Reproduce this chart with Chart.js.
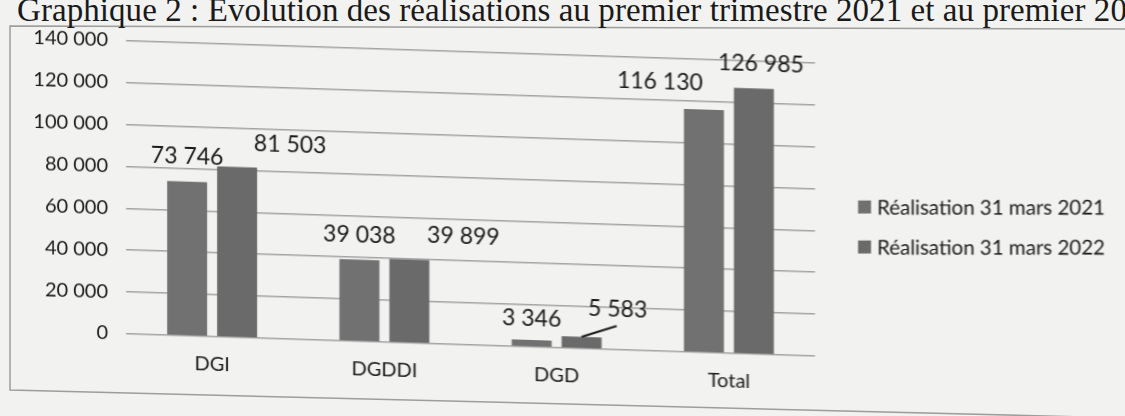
<!DOCTYPE html>
<html>
<head>
<meta charset="utf-8">
<script src="https://cdn.jsdelivr.net/npm/chart.js@4.4.0/dist/chart.umd.min.js"></script>
<style>
html,body{margin:0;padding:0;width:1125px;height:416px;overflow:hidden;background:#f2f2f1;}
#frame{position:absolute;left:0;top:0;}
#title{position:absolute;left:17px;top:-6px;white-space:nowrap;line-height:1;font-size:33px;font-family:"Liberation Serif","DejaVu Serif",serif;color:#1a1a1a;}
#wrap{position:absolute;left:0;top:0;width:1125px;height:416px;transform:skewY(1.85deg);transform-origin:470px 190px;}
</style>
</head>
<body>
<svg id="frame" width="1125" height="416"><polyline points="1125,29 10,26 10,390 1125,418" fill="none" stroke="#9d9d9d" stroke-width="1.5"/></svg>
<div id="title">Graphique 2 : Evolution des réalisations au premier trimestre 2021 et au premier 2022</div>
<div id="wrap"><canvas id="c" width="1125" height="416"></canvas></div>
<script>
// ---- data ----
const categories = ['DGI', 'DGDDI', 'DGD', 'Total'];
const realisation2021 = [73746, 39038, 3346, 116130];
const realisation2022 = [81503, 39899, 5583, 126985];
const seriesLabels = ['Réalisation 31 mars 2021', 'Réalisation 31 mars 2022'];
const yTickValues = [0, 20000, 40000, 60000, 80000, 100000, 120000, 140000];

// ---- title fit ----
(function () {
  const el = document.getElementById('title');
  const visible = 'Graphique 2 : Evolution des réalisations au premier trimestre 2021 et au premier 20';
  const m = document.createElement('canvas').getContext('2d');
  m.font = '33px "Liberation Serif"';
  const w = m.measureText(visible).width;
  el.style.letterSpacing = ((1110 - w) / visible.length) + 'px';
})();

const fmt = v => String(Math.round(v)).replace(/\B(?=(\d{3})+(?!\d))/g, ' ');
const SKEW = Math.tan(1.85 * Math.PI / 180);
const SKEW_OX = 470;

const valueLabels = {
  id: 'valueLabels',
  afterDatasetsDraw(chart, args, opts) {
    const ctx = chart.ctx;
    ctx.save();
    ctx.font = opts.size + 'px ' + opts.family;
    ctx.fillStyle = opts.color;
    ctx.textAlign = 'center';
    ctx.textBaseline = 'middle';
    chart.data.datasets.forEach((ds, di) => {
      chart.getDatasetMeta(di).data.forEach((bar, i) => {
        const off = opts.offsets[di][i];
        ctx.fillText(fmt(ds.data[i]), bar.x + off[0], bar.y - off[1]);
        if (off[2]) {
          ctx.beginPath();
          ctx.strokeStyle = opts.color;
          ctx.lineWidth = 2;
          ctx.moveTo(bar.x, bar.y);
          ctx.lineTo(bar.x + off[2][0], bar.y - off[2][1]);
          ctx.stroke();
        }
      });
    });
    ctx.restore();
  }
};

const sideLegend = {
  id: 'sideLegend',
  afterDraw(chart, args, opts) {
    const ctx = chart.ctx;
    ctx.save();
    ctx.setTransform(1, -SKEW, 0, 1, 0, SKEW * SKEW_OX);
    ctx.font = opts.size + 'px ' + opts.family;
    ctx.textBaseline = 'middle';
    ctx.textAlign = 'left';
    chart.data.datasets.forEach((ds, i) => {
      const y = opts.ys[i];
      ctx.fillStyle = ds.backgroundColor;
      ctx.fillRect(opts.boxX, y - opts.box / 2, opts.box, opts.box);
      ctx.fillStyle = opts.color;
      ctx.fillText(ds.label, opts.textX, y + 1);
    });
    ctx.restore();
  }
};

new Chart(document.getElementById('c'), {
  type: 'bar',
  data: {
    labels: categories,
    datasets: [
      { label: seriesLabels[0], data: realisation2021, backgroundColor: '#717171', categoryPercentage: 0.58, barPercentage: 0.8 },
      { label: seriesLabels[1], data: realisation2022, backgroundColor: '#6a6a6a', categoryPercentage: 0.58, barPercentage: 0.8 }
    ]
  },
  options: {
    responsive: false,
    animation: false,
    devicePixelRatio: 1,
    layout: { padding: { left: 10, right: 310, top: 52, bottom: 0 } },
    plugins: {
      legend: { display: false },
      tooltip: { enabled: false },
      valueLabels: {
        family: 'Lato', size: 23, color: '#1a1a1a',
        offsets: [
          [[0, 25], [0, 25], [0, 21], [-44, 26]],
          [[53, 24], [54, 25], [36, 29, [35, 12]], [7, 25]]
        ]
      },
      sideLegend: { family: 'Lato', size: 20.5, color: '#1a1a1a', boxX: 858, box: 13, textX: 877, ys: [207, 247] }
    },
    scales: {
      x: {
        grid: { display: false, drawTicks: false },
        border: { display: false },
        ticks: { color: '#1a1a1a', font: { family: 'Lato', size: 20 }, padding: 16 },
        afterFit(s) { s.height = 71; }
      },
      y: {
        min: 0, max: 140000,
        afterBuildTicks(s) { s.ticks = yTickValues.map(v => ({ value: v })); },
        grid: { color: '#a3a3a3', lineWidth: 1.6, drawTicks: false },
        border: { display: false },
        ticks: { color: '#1a1a1a', font: { family: 'Lato', size: 20 }, padding: 18, callback: v => fmt(v) },
        afterFit(s) { s.width = 116; }
      }
    }
  },
  plugins: [valueLabels, sideLegend]
});
</script>
</body>
</html>
